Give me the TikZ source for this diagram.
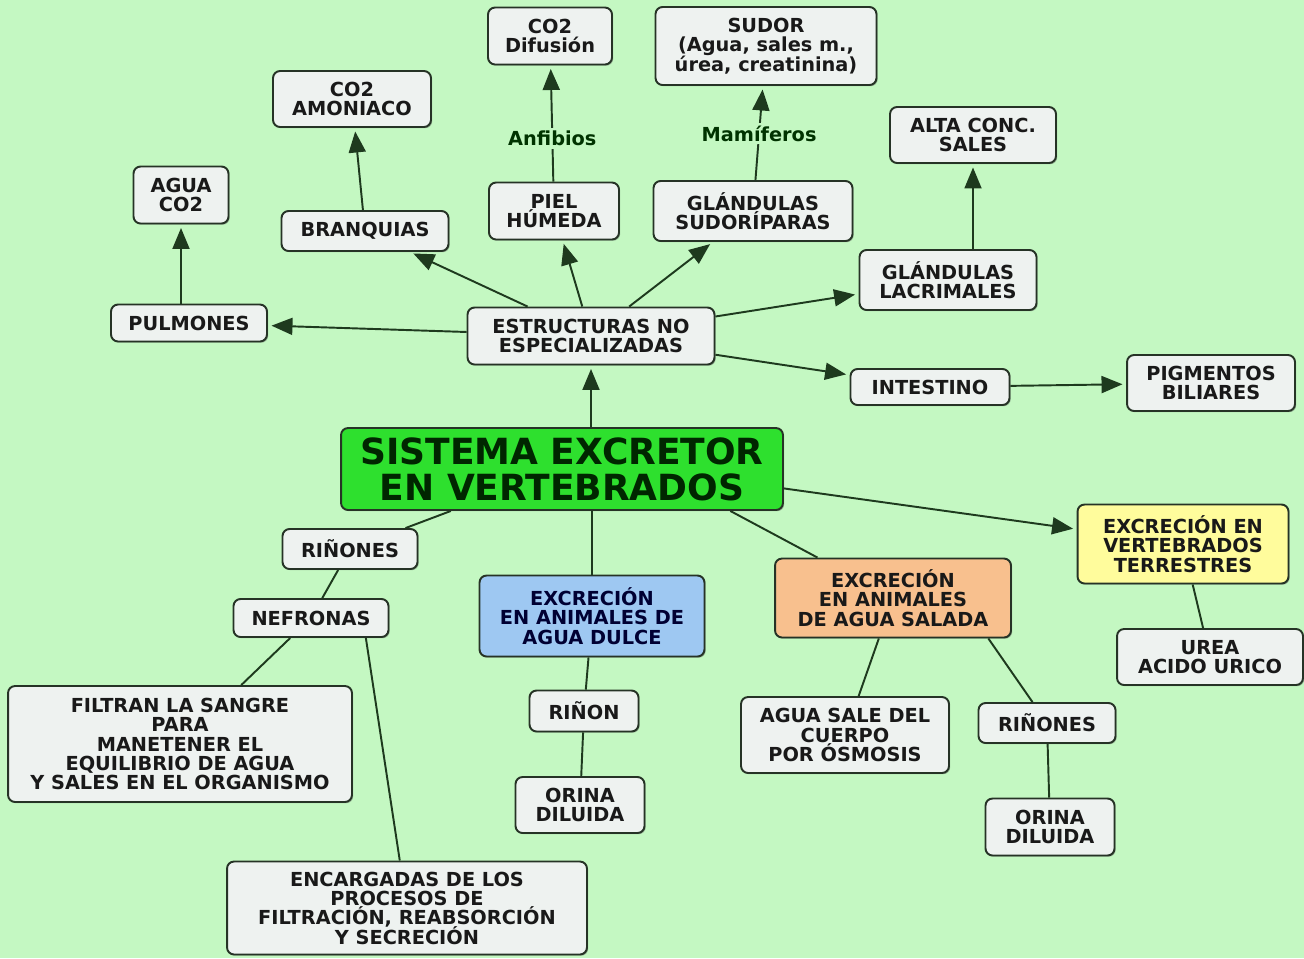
\documentclass[tikz,border=0pt]{standalone}
\usepackage{fontspec}
\setmainfont{DejaVu Sans}
\usetikzlibrary{positioning, arrows.meta, shadows}
\definecolor{mybg}{HTML}{C4F8C2}
\definecolor{myboxfill}{HTML}{EEF2F0}
\definecolor{mygreen}{HTML}{2EE02E}
\definecolor{myblue}{HTML}{9EC8F2}
\definecolor{myorange}{HTML}{F8C08E}
\definecolor{myyellow}{HTML}{FFFC9C}
\definecolor{mylink}{HTML}{1E3A1E}
\definecolor{myborder}{HTML}{263326}
\tikzset{
	conceptnode/.style={
			rectangle,
			rounded corners=4pt,
			draw=myborder,
			line width=1.1pt,
			fill=myboxfill,
			inner sep=0pt,
			align=center,
			text=black!90,
			font=\fontsize{11}{11}\selectfont\bfseries,
			execute at begin node={\lineskiplimit=-10pt\relax},
			drop shadow={shadow xshift=0.7pt, shadow yshift=-0.7pt, fill=black!70, opacity=0.4}
		},
	mainnode/.style={
			conceptnode,
			fill=mygreen,
			text=black!85!green,
			font=\fontsize{20.5}{20.5}\selectfont\bfseries
		},
	bluenode/.style={
			conceptnode,
			fill=myblue,
			text=black!80!blue
		},
	orangenode/.style={
			conceptnode,
			fill=myorange
		},
	yellownode/.style={
			conceptnode,
			fill=myyellow
		},
	linkline/.style={
			draw=mylink,
			line width=1.1pt
		},
	arrowline/.style={
			linkline,
			-{Triangle[length=4.2mm, width=3.4mm]},
			shorten >=2pt
		},
	linklabel/.style={
			fill=mybg,
			inner sep=1.5pt,
			text=black!80!green,
			font=\fontsize{11}{11}\selectfont\bfseries
		}
}

\begin{document}
\begin{tikzpicture}[x=0.02cm, y=-0.02cm]
				\fill[mybg] (0,0) rectangle (1304,958);
				\useasboundingbox (0,0) rectangle (1304,958);

				% centre
				\node[mainnode, minimum width=8.84cm, minimum height=1.64cm] at (562,469) (sistema) {SISTEMA EXCRETOR\\EN VERTEBRADOS};
				\node[conceptnode, minimum width=4.94cm, minimum height=1.14cm] at (591,336) (estr) {ESTRUCTURAS NO\\ESPECIALIZADAS};

				% upper branch
				\node[conceptnode, minimum width=3.12cm, minimum height=0.74cm] at (189,323) (pulm) {PULMONES};
				\node[conceptnode, minimum width=1.90cm, minimum height=1.14cm] at (181,195) (aguaco) {AGUA\\CO2};
				\node[conceptnode, minimum width=3.34cm, minimum height=0.80cm] at (365,231) (branq) {BRANQUIAS};
				\node[conceptnode, minimum width=3.16cm, minimum height=1.12cm] at (352,99) (amon) {CO2\\AMONIACO};
				\node[conceptnode, minimum width=2.60cm, minimum height=1.14cm] at (554,211) (piel) {PIEL\\HÚMEDA};
				\node[conceptnode, minimum width=2.48cm, minimum height=1.14cm] at (550,36) (difus) {CO2\\Difusión};
				\node[conceptnode, minimum width=3.98cm, minimum height=1.20cm] at (753,211) (sudorip) {GLÁNDULAS\\SUDORÍPARAS};
				\node[conceptnode, minimum width=4.42cm, minimum height=1.56cm] at (766,46) (sudor) {SUDOR\\(Agua, sales m.,\\úrea, creatinina)};
				\node[conceptnode, minimum width=3.54cm, minimum height=1.20cm] at (948,280) (lacrim) {GLÁNDULAS\\LACRIMALES};
				\node[conceptnode, minimum width=3.32cm, minimum height=1.12cm] at (973,135) (sales) {ALTA CONC.\\SALES};
				\node[conceptnode, minimum width=3.18cm, minimum height=0.72cm] at (930,387) (intest) {INTESTINO};
				\node[conceptnode, minimum width=3.36cm, minimum height=1.12cm] at (1211,383) (pigm) {PIGMENTOS\\BILIARES};

				% lower branch
				\node[conceptnode, minimum width=2.70cm, minimum height=0.80cm] at (350,549) (rinl) {RIÑONES};
				\node[conceptnode, minimum width=3.10cm, minimum height=0.76cm] at (311,618) (nefr) {NEFRONAS};
				\node[conceptnode, minimum width=6.88cm, minimum height=2.32cm] at (180,744) (filtr) {FILTRAN LA SANGRE\\PARA\\MANETENER EL\\EQUILIBRIO DE AGUA\\Y SALES EN EL ORGANISMO};
				\node[conceptnode, minimum width=7.20cm, minimum height=1.86cm] at (407,908) (encarg) {ENCARGADAS DE LOS\\PROCESOS DE\\FILTRACIÓN, REABSORCIÓN\\Y SECRECIÓN};
				\node[bluenode, minimum width=4.50cm, minimum height=1.62cm] at (592,616) (dulce) {EXCRECIÓN\\EN ANIMALES DE\\AGUA DULCE};
				\node[conceptnode, minimum width=2.18cm, minimum height=0.82cm] at (584,711) (rinm) {RIÑON};
				\node[conceptnode, minimum width=2.58cm, minimum height=1.12cm] at (580,805) (orinam) {ORINA\\DILUIDA};
				\node[orangenode, minimum width=4.72cm, minimum height=1.58cm] at (893,598) (salada) {EXCRECIÓN\\EN ANIMALES\\DE AGUA SALADA};
				\node[conceptnode, minimum width=4.16cm, minimum height=1.52cm] at (845,735) (osmo) {AGUA SALE DEL\\CUERPO\\POR ÓSMOSIS};
				\node[conceptnode, minimum width=2.74cm, minimum height=0.80cm] at (1047,723) (rinr) {RIÑONES};
				\node[conceptnode, minimum width=2.58cm, minimum height=1.14cm] at (1050,827) (orinar) {ORINA\\DILUIDA};
				\node[yellownode, minimum width=4.22cm, minimum height=1.58cm] at (1183,544) (terr) {EXCRECIÓN EN\\VERTEBRADOS\\TERRESTRES};
				\node[conceptnode, minimum width=3.72cm, minimum height=1.12cm] at (1210,657) (urea) {UREA\\ACIDO URICO};

				% arrows up
				\draw[arrowline] (estr |- sistema.north) -- (estr);
				\draw[arrowline] (estr) -- (pulm);
				\draw[arrowline] (estr) -- (branq);
				\draw[arrowline] (estr) -- (piel);
				\draw[arrowline] (estr) -- (sudorip);
				\draw[arrowline] (estr) -- (lacrim);
				\draw[arrowline] (estr) -- (intest);
				\draw[arrowline] (intest) -- (pigm);
				\draw[arrowline] (aguaco |- pulm.north) -- (aguaco);
				\draw[arrowline] (branq) -- (amon);
				\draw[arrowline] (piel) -- node[linklabel, pos=0.37] (anfib) {Anfibios} (difus);
				\draw[arrowline] (sudorip) -- node[linklabel, pos=0.49] (mamif) {Mamíferos} (sudor);
				\draw[arrowline] (sales |- lacrim.north) -- (sales);
				\draw[arrowline] (sistema.-5.4) -- (terr);

				% plain links
				\draw[linkline] (sistema) -- (rinl);
				\draw[linkline] (rinl) -- (nefr);
				\draw[linkline] (nefr) -- (filtr);
				\draw[linkline] (nefr.-20) -- (encarg);
				\draw[linkline] (dulce |- sistema.south) -- (dulce);
				\draw[linkline] (dulce) -- (rinm);
				\draw[linkline] (rinm) -- (orinam);
				\draw[linkline] (sistema.-14.5) -- (salada);
				\draw[linkline] (salada) -- (osmo);
				\draw[linkline] (salada.-23) -- (rinr);
				\draw[linkline] (rinr) -- (orinar);
				\draw[linkline] (terr) -- (urea);
			\end{tikzpicture}
\end{document}
